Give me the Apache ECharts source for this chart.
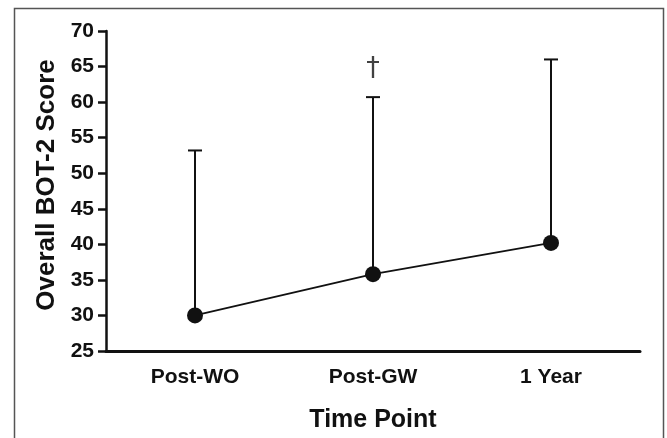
<!DOCTYPE html>
<html>
<head>
<meta charset="utf-8">
<script src="https://cdn.jsdelivr.net/npm/echarts@6/dist/echarts.min.js"></script>
<style>html,body{margin:0;padding:0;background:#fff}#c{width:667px;height:438px}</style>
</head>
<body>
<div id="c"></div>
<script>
const categories = ['Post-WO', 'Post-GW', '1 Year'];
const means = [30.0, 35.8, 40.2];
const uppers = [53.2, 60.7, 66.0];
const daggerCategory = 'Post-GW';
const daggerValue = 64.7;
const yTicks = { min: 25, max: 70, interval: 5 };

const FONT = 'Liberation Sans, Arial, sans-serif';
const chart = echarts.init(document.getElementById('c'), null, { renderer: 'canvas' });

chart.setOption({
  animation: false,
  backgroundColor: '#fff',
  graphic: [{
    type: 'rect', left: 12, top: 6,
    shape: { width: 649, height: 460 },
    style: { fill: 'none', stroke: '#555', lineWidth: 1.5 }, silent: true, z: -1
  }],
  grid: { left: 106, right: 27, top: 31, bottom: 81, containLabel: false },
  xAxis: {
    type: 'category', data: categories, boundaryGap: true,
    name: 'Time Point', nameLocation: 'middle', nameGap: 57,
    nameTextStyle: { fontFamily: FONT, fontWeight: 'bold', fontSize: 25, color: '#111' },
    axisLine: { lineStyle: { color: '#111', width: 3 } },
    axisTick: { alignWithLabel: true, length: 8, lineStyle: { color: '#111', width: 2.5 } },
    axisLabel: { fontFamily: FONT, fontWeight: 'bold', fontSize: 21, color: '#111', margin: 16 },
    splitLine: { show: false }
  },
  yAxis: {
    type: 'value', min: yTicks.min, max: yTicks.max, interval: yTicks.interval,
    name: 'Overall BOT-2 Score', nameLocation: 'middle', nameGap: 46, nameRotate: 90,
    nameTextStyle: { fontFamily: FONT, fontWeight: 'bold', fontSize: 26, color: '#111', padding: [0, 0, 0, 12] },
    axisLine: { show: true, lineStyle: { color: '#111', width: 2.5 } },
    axisTick: { show: true, length: 8, lineStyle: { color: '#111', width: 2.5 } },
    axisLabel: { fontFamily: FONT, fontWeight: 'bold', fontSize: 21, color: '#111', margin: 12 },
    splitLine: { show: false }
  },
  series: [
    {
      type: 'custom', name: 'err',
      data: categories.map((c, i) => [i, means[i], uppers[i]]),
      renderItem: function (params, api) {
        const lo = api.coord([api.value(0), api.value(1)]);
        const hi = api.coord([api.value(0), api.value(2)]);
        const half = 7;
        return {
          type: 'group',
          children: [
            { type: 'line', shape: { x1: lo[0], y1: lo[1], x2: hi[0], y2: hi[1] }, style: { stroke: '#111', lineWidth: 2 } },
            { type: 'line', shape: { x1: hi[0] - half, y1: hi[1], x2: hi[0] + half, y2: hi[1] }, style: { stroke: '#111', lineWidth: 2 } }
          ]
        };
      },
      z: 1
    },
    {
      type: 'line', data: means, symbol: 'circle', symbolSize: 16,
      lineStyle: { color: '#111', width: 1.8 },
      itemStyle: { color: '#111' }, z: 3
    },
    {
      type: 'scatter', data: [[daggerCategory, daggerValue]], symbolSize: 0,
      label: { show: true, position: 'inside', formatter: '\u2020', fontFamily: 'DejaVu Sans, sans-serif', fontSize: 27, color: '#111' },
      z: 4
    }
  ]
});
</script>
</body>
</html>
